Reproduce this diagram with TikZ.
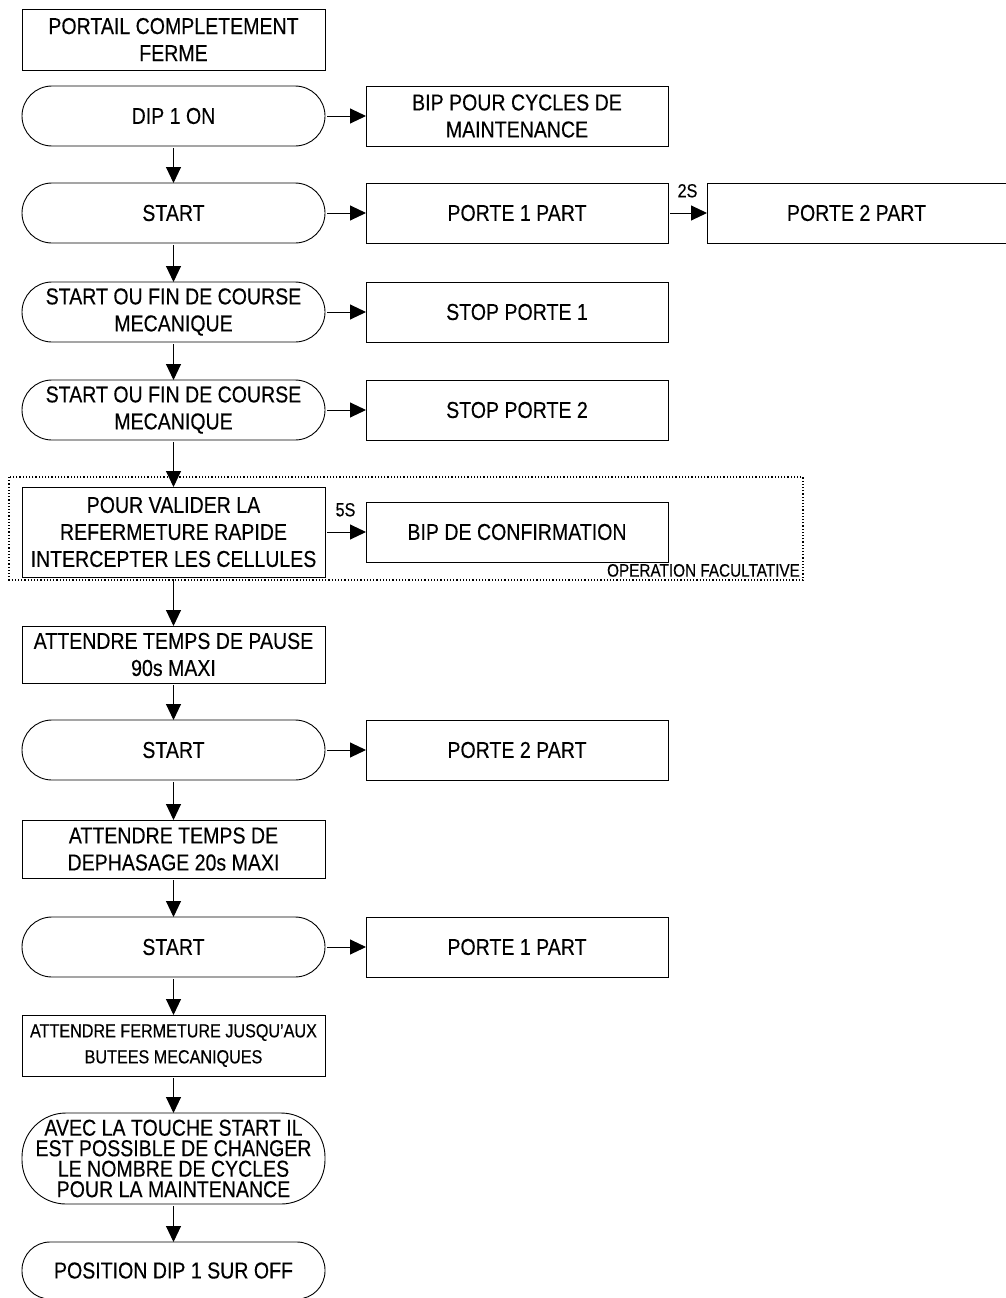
\documentclass[tikz,border=0pt]{standalone}
\usepackage{fontspec}
\setmainfont{Liberation Sans}[FakeStretch=0.85,FakeBold=0.3]
\usepackage{tikz}
\usetikzlibrary{arrows.meta,positioning,calc}
\newcommand{\fbig}{\fontsize{23}{27}\selectfont}
\newcommand{\fmid}{\fontsize{19}{26}\selectfont}
\newcommand{\ftight}{\fontsize{23}{20.5}\selectfont}
\newcommand{\fsmall}{\fontsize{18}{20}\selectfont}

\begin{document}
\begin{tikzpicture}[
  node distance=38pt and 41pt,
  box/.style={draw, rectangle, align=center, font=\fbig, inner sep=2pt, outer sep=0pt, minimum width=303pt, minimum height=60pt, line width=0.9pt},
  term/.style={box, rounded corners=30pt},
  act/.style={box, minimum width=302pt},
  arr/.style={-{Triangle[length=16pt,width=15pt]}, line width=1pt, shorten <=2pt},
  optbox/.style={dotted, line width=1.2pt},
  tag/.style={font=\fmid, inner sep=1pt},
]
\useasboundingbox (0,0) rectangle (1006pt,-1298pt);

% main column
\node[box, anchor=north west, minimum height=61pt] (ferme) at (22pt,-9pt) {PORTAIL COMPLETEMENT\\FERME};
\node[term, below=16pt of ferme] (dipon) {DIP 1 ON};
\node[term, below=37pt of dipon] (start1) {START};
\node[term, below=39pt of start1] (fin1) {START OU FIN DE COURSE\\MECANIQUE};
\node[term, below=of fin1] (fin2) {START OU FIN DE COURSE\\MECANIQUE};
\node[box, below=47pt of fin2, minimum height=90pt] (valid) {POUR VALIDER LA\\REFERMETURE RAPIDE\\INTERCEPTER LES CELLULES};
\node[box, below=49pt of valid, minimum height=57pt] (pause) {ATTENDRE TEMPS DE PAUSE\\90s MAXI};
\node[term, below=37pt of pause] (start2) {START};
\node[box, below=40pt of start2, minimum height=58pt] (dephas) {ATTENDRE TEMPS DE\\DEPHASAGE 20s MAXI};
\node[term, below=39pt of dephas] (start3) {START};
\node[box, below=of start3, minimum height=61pt, font=\fmid] (butees) {ATTENDRE FERMETURE JUSQU'AUX\\BUTEES MECANIQUES};
\node[term, below=37pt of butees, minimum height=91pt, rounded corners=44pt, font=\ftight, inner sep=0pt] (touche) {AVEC LA TOUCHE START IL\\EST POSSIBLE DE CHANGER\\LE NOMBRE DE CYCLES\\POUR LA MAINTENANCE};
\node[term, below=of touche, minimum height=57pt, rounded corners=28pt] (dipoff) {POSITION DIP 1 SUR OFF};

% actions on the right
\node[act, right=of dipon] (bipcyc) {BIP POUR CYCLES DE\\MAINTENANCE};
\node[act, right=of start1] (porte1) {PORTE 1 PART};
\node[act, right=39pt of porte1, minimum width=299pt] (porte2) {PORTE 2 PART};
\node[act, right=of fin1] (stop1) {STOP PORTE 1};
\node[act, right=of fin2] (stop2) {STOP PORTE 2};
\node[act, right=of valid] (confirm) {BIP DE CONFIRMATION};
\node[act, right=of start2] (porte2b) {PORTE 2 PART};
\node[act, right=of start3] (porte1b) {PORTE 1 PART};

% optional step
\coordinate (optNW) at ($(valid.north west)+(-13pt,10pt)$);
\coordinate (optSE) at ($(confirm.east |- valid.south)+(135pt,-3pt)$);
\draw[optbox] (optNW) rectangle (optSE);
\node[anchor=south east, font=\fsmall, inner sep=1pt] (facult) at ($(optSE)+(-2pt,2pt)$) {OPERATION FACULTATIVE};

\foreach \a/\b in {dipon/start1, start1/fin1, fin1/fin2, fin2/valid, valid/pause,
                   pause/start2, start2/dephas, dephas/start3, start3/butees,
                   butees/touche, touche/dipoff}
  \draw[arr] (\a.south) -- (\b.north);

\foreach \a/\b in {dipon/bipcyc, start1/porte1, fin1/stop1, fin2/stop2,
                   start2/porte2b, start3/porte1b}
  \draw[arr] (\a.east) -- (\b.west);

\draw[arr] (porte1.east) -- node[tag, above=14pt] (delay2) {2S} (porte2.west);
\draw[arr] (valid.east) -- node[tag, above=14pt] (delay5) {5S} (confirm.west);
\end{tikzpicture}
\end{document}
